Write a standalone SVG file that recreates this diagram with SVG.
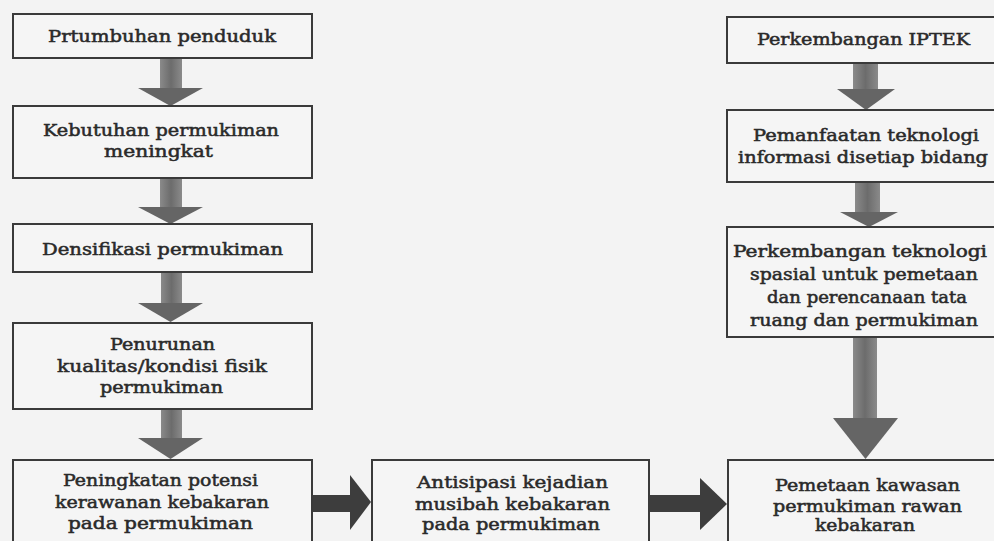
<svg xmlns="http://www.w3.org/2000/svg" width="994" height="541" viewBox="0 0 994 541">
<style>
.bg{fill:#f3f3f3}
.box{fill:#f5f5f5;stroke:#3a3a3a;stroke-width:2}
.t{font-family:"DejaVu Serif","Liberation Serif",serif;font-size:16px;fill:#2a2a2a;stroke:#2a2a2a;stroke-width:0.5;text-anchor:middle}
.va{fill:url(#vg)}
.vh{fill:#656565}
.ha{fill:#3d3d3d}
</style>
<defs>
<linearGradient id="vg" x1="0" y1="0" x2="1" y2="0">
<stop offset="0" stop-color="#8a8a8a"/>
<stop offset="0.5" stop-color="#6c6c6c"/>
<stop offset="1" stop-color="#8a8a8a"/>
</linearGradient>
</defs>
<rect class="bg" x="0" y="0" width="994" height="541"/>

<g id="connectors">
<rect class="va" x="160" y="58" width="22" height="31"/>
<polygon class="vh" points="138,88 203,88 170.5,106"/>
<rect class="va" x="160" y="178" width="22" height="30"/>
<polygon class="vh" points="138,207 203,207 170.5,224"/>
<rect class="va" x="161" y="272" width="21" height="32"/>
<polygon class="vh" points="138,303 203,303 170.5,322"/>
<rect class="va" x="161" y="409" width="21" height="30"/>
<polygon class="vh" points="138,438 203,438 170.5,459"/>

<rect class="va" x="853" y="63" width="25" height="27"/>
<polygon class="vh" points="837,89 895,89 866,110"/>
<rect class="va" x="855" y="182" width="25" height="31"/>
<polygon class="vh" points="840,212 898,212 869,227"/>
<rect class="va" x="853" y="337" width="24" height="82"/>
<polygon class="vh" points="833,418 898,418 865.5,459"/>

<rect class="ha" x="312" y="495" width="39" height="17"/>
<polygon class="ha" points="350,475 371,502 350,530"/>
<rect class="ha" x="649" y="495" width="52" height="17"/>
<polygon class="ha" points="700,478 727,504 700,530"/>
</g>

<g id="n1"><rect class="box" x="13" y="14" width="299" height="44"/>
<text class="t" x="162" y="42" textLength="228" lengthAdjust="spacingAndGlyphs">Prtumbuhan penduduk</text></g>
<g id="n2"><rect class="box" x="13" y="106" width="299" height="72"/>
<text class="t" x="161" y="136" textLength="236" lengthAdjust="spacingAndGlyphs">Kebutuhan permukiman</text>
<text class="t" x="158.5" y="157" textLength="109" lengthAdjust="spacingAndGlyphs">meningkat</text></g>
<g id="n3"><rect class="box" x="13" y="224" width="299" height="48"/>
<text class="t" x="162.5" y="255" textLength="241" lengthAdjust="spacingAndGlyphs">Densifikasi permukiman</text></g>
<g id="n4"><rect class="box" x="13" y="323" width="299" height="86"/>
<text class="t" x="162.5" y="350" textLength="105" lengthAdjust="spacingAndGlyphs">Penurunan</text>
<text class="t" x="162" y="372" textLength="210" lengthAdjust="spacingAndGlyphs">kualitas/kondisi fisik</text>
<text class="t" x="161.5" y="393" textLength="123" lengthAdjust="spacingAndGlyphs">permukiman</text></g>
<g id="n5"><rect class="box" x="13" y="460" width="299" height="95"/>
<text class="t" x="160.5" y="486" textLength="195" lengthAdjust="spacingAndGlyphs">Peningkatan potensi</text>
<text class="t" x="162" y="508" textLength="214" lengthAdjust="spacingAndGlyphs">kerawanan kebakaran</text>
<text class="t" x="160.5" y="529" textLength="185" lengthAdjust="spacingAndGlyphs">pada permukiman</text></g>
<g id="n6"><rect class="box" x="372" y="460" width="277" height="95"/>
<text class="t" x="512.5" y="488" textLength="191" lengthAdjust="spacingAndGlyphs">Antisipasi kejadian</text>
<text class="t" x="512.5" y="510" textLength="195" lengthAdjust="spacingAndGlyphs">musibah kebakaran</text>
<text class="t" x="511" y="530" textLength="178" lengthAdjust="spacingAndGlyphs">pada permukiman</text></g>
<g id="n7"><rect class="box" x="728" y="460" width="290" height="95"/>
<text class="t" x="867.5" y="491" textLength="185" lengthAdjust="spacingAndGlyphs">Pemetaan kawasan</text>
<text class="t" x="867.5" y="512" textLength="189" lengthAdjust="spacingAndGlyphs">permukiman rawan</text>
<text class="t" x="865" y="531" textLength="100" lengthAdjust="spacingAndGlyphs">kebakaran</text></g>
<g id="r1"><rect class="box" x="727" y="17" width="290" height="46"/>
<text class="t" x="863.5" y="45" textLength="213" lengthAdjust="spacingAndGlyphs">Perkembangan IPTEK</text></g>
<g id="r2"><rect class="box" x="727" y="110" width="290" height="72"/>
<text class="t" x="866" y="141" textLength="226" lengthAdjust="spacingAndGlyphs">Pemanfaatan teknologi</text>
<text class="t" x="863" y="163" textLength="250" lengthAdjust="spacingAndGlyphs">informasi disetiap bidang</text></g>
<g id="r3"><rect class="box" x="727" y="227" width="290" height="110"/>
<text class="t" x="860" y="257" textLength="254" lengthAdjust="spacingAndGlyphs">Perkembangan teknologi</text>
<text class="t" x="864" y="280" textLength="228" lengthAdjust="spacingAndGlyphs">spasial untuk pemetaan</text>
<text class="t" x="867" y="303" textLength="200" lengthAdjust="spacingAndGlyphs">dan perencanaan tata</text>
<text class="t" x="864" y="326" textLength="228" lengthAdjust="spacingAndGlyphs">ruang dan permukiman</text></g>
</svg>
